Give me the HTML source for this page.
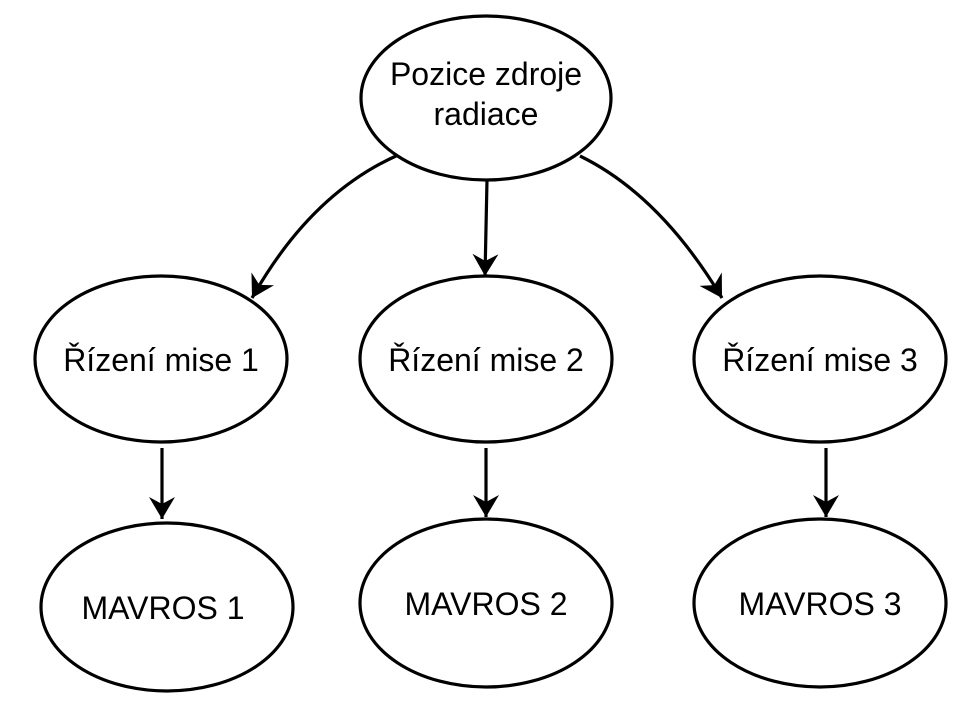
<!DOCTYPE html>
<html><head><meta charset="utf-8"><style>
html,body{margin:0;padding:0;background:#fff;}
svg{display:block;}
text{font-family:"Liberation Sans",sans-serif;font-size:32px;fill:#000;text-anchor:middle;}
</style></head><body>
<svg width="972" height="701" viewBox="0 0 972 701">
<defs>
<marker id="a" markerWidth="22" markerHeight="26" refX="22" refY="13" orient="auto" markerUnits="userSpaceOnUse" viewBox="0 0 22 26">
<path d="M0,0 L22,13 L0,26 L7,13 z" fill="#000"/>
</marker>
</defs>
<g fill="#fff" stroke="#000" stroke-width="3.2">
<ellipse cx="486" cy="98" rx="125" ry="82"/>
<ellipse cx="161" cy="359" rx="126" ry="83"/>
<ellipse cx="486" cy="359" rx="126" ry="83"/>
<ellipse cx="820" cy="359" rx="126" ry="83"/>
<ellipse cx="167" cy="607" rx="126" ry="84"/>
<ellipse cx="486" cy="603" rx="126" ry="84"/>
<ellipse cx="820" cy="603" rx="126" ry="84"/>
</g>
<g fill="none" stroke="#000" stroke-width="3.2">
<path d="M396,156 Q310,195 252,298" marker-end="url(#a)"/>
<path d="M487,180 L485,276" marker-end="url(#a)"/>
<path d="M580,156 Q660,195 722,298" marker-end="url(#a)"/>
<path d="M162,448 L162,519" marker-end="url(#a)"/>
<path d="M486,448 L486,517" marker-end="url(#a)"/>
<path d="M826,448 L826,517" marker-end="url(#a)"/>
</g>
<text x="486" y="85">Pozice zdroje</text>
<text x="486" y="125">radiace</text>
<text x="161" y="371">Řízení mise 1</text>
<text x="486" y="371">Řízení mise 2</text>
<text x="820" y="371">Řízení mise 3</text>
<text x="163" y="619">MAVROS 1</text>
<text x="486" y="615">MAVROS 2</text>
<text x="820" y="615">MAVROS 3</text>
</svg>
</body></html>
